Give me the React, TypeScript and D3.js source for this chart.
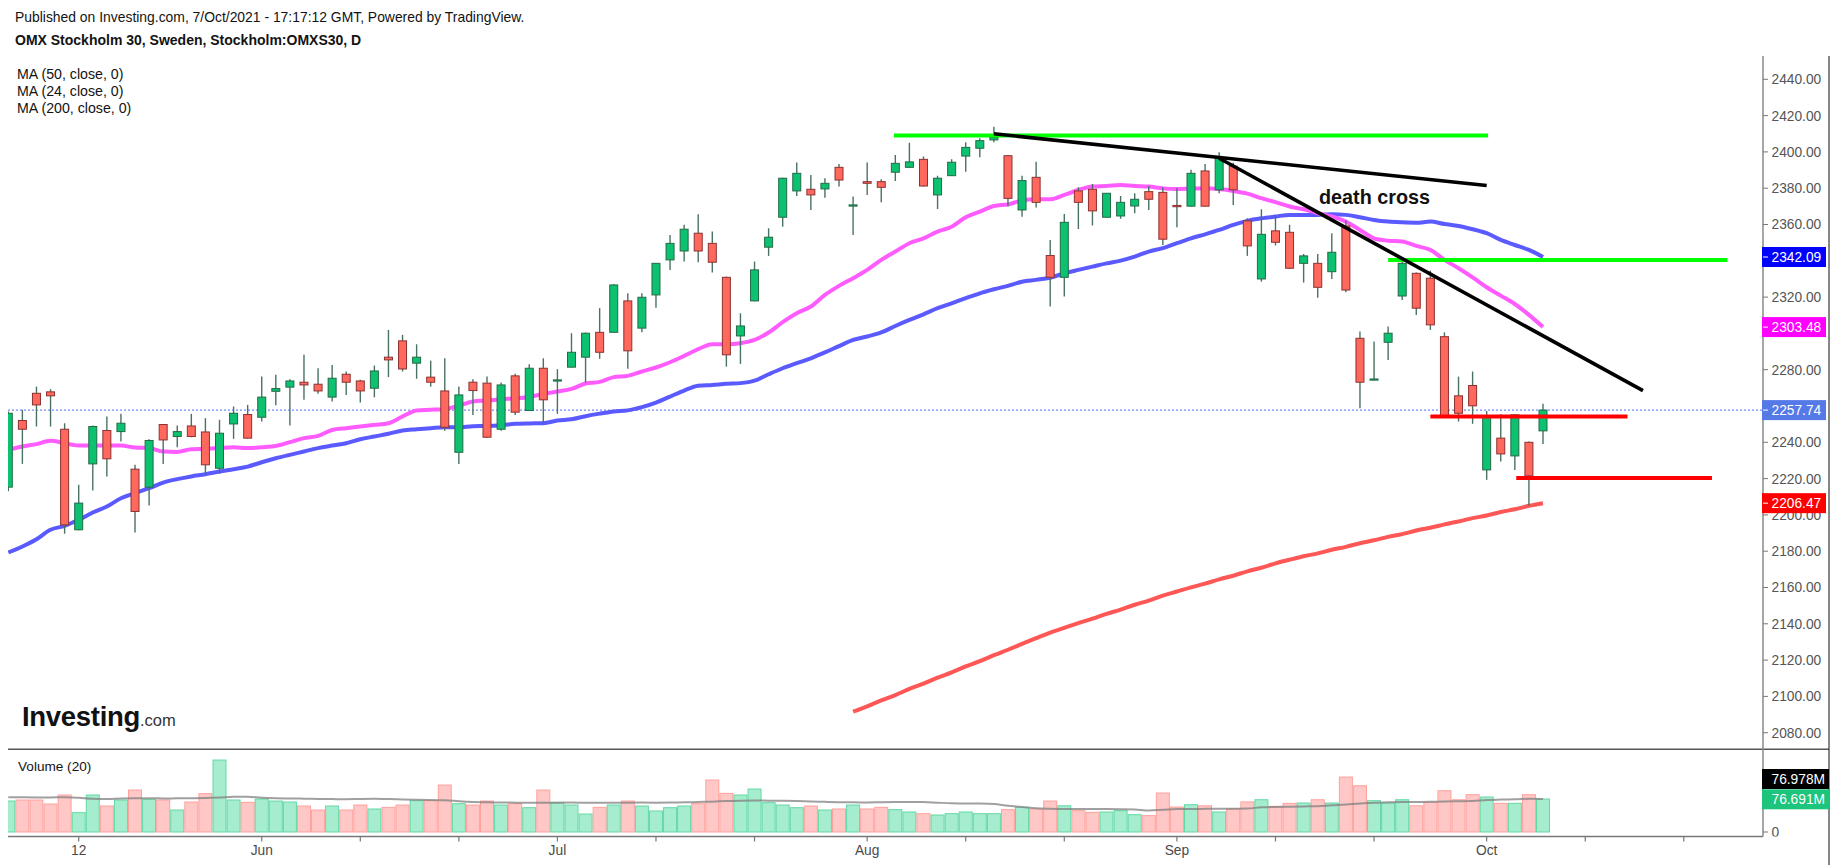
import React from 'react';
import * as d3 from 'd3';

// ---------- DATA ----------
const OPEN = [2215.3,2252.0,2267.0,2267.8,2247.2,2191.8,2228.1,2246.5,2245.9,2225.2,2215.3,2249.8,2243.2,2249.0,2245.7,2225.7,2250.1,2255.3,2253.8,2268.1,2270.4,2273.1,2272.0,2264.9,2277.5,2273.8,2269.8,2286.9,2295.9,2283.6,2275.9,2268.3,2234.5,2273.1,2272.6,2247.2,2276.6,2257.5,2280.8,2273.8,2281.4,2286.9,2300.6,2300.6,2317.9,2302.9,2321.2,2340.5,2345.4,2355.2,2349.6,2330.9,2298.6,2317.9,2347.5,2364.0,2378.5,2379.4,2379.6,2391.5,2370.2,2383.6,2383.6,2388.8,2391.5,2395.9,2376.3,2386.9,2397.7,2402.0,2406.6,2397.9,2368.0,2386.0,2342.9,2330.9,2378.5,2379.4,2364.0,2364.7,2370.2,2378.1,2377.7,2370.5,2370.1,2389.5,2379.1,2392.1,2362.0,2330.0,2356.5,2355.7,2338.6,2338.6,2334.0,2359.2,2297.3,2274.4,2295.1,2320.6,2333.1,2330.4,2298.2,2265.6,2271.3,2224.8,2242.3,2232.5,2240.0,2246.3];
const HIGH = [2257.0,2257.9,2270.7,2269.3,2250.5,2216.6,2249.2,2254.2,2255.7,2227.6,2241.7,2250.0,2249.2,2255.7,2253.3,2252.4,2259.7,2260.6,2276.2,2277.2,2274.8,2288.2,2280.8,2282.6,2279.0,2274.4,2282.3,2301.9,2299.2,2294.0,2285.0,2286.3,2270.7,2274.8,2276.2,2272.9,2277.7,2283.0,2286.3,2280.3,2300.1,2300.5,2313.9,2327.1,2322.1,2322.1,2338.8,2354.2,2359.8,2365.6,2356.1,2331.3,2311.1,2339.6,2357.9,2385.7,2394.1,2387.3,2385.5,2393.4,2375.4,2394.1,2384.9,2398.3,2405.1,2397.4,2386.9,2395.9,2405.3,2407.5,2413.9,2398.3,2386.9,2394.6,2351.5,2365.8,2380.5,2382.3,2377.4,2375.7,2377.2,2381.2,2380.5,2380.0,2390.1,2393.4,2399.8,2394.0,2363.4,2368.4,2365.3,2359.8,2343.8,2343.8,2355.2,2362.2,2301.0,2295.5,2303.8,2340.5,2333.5,2334.6,2300.6,2276.2,2279.0,2257.3,2255.5,2255.5,2240.4,2261.2];
const LOW = [2213.0,2228.1,2248.7,2248.7,2189.6,2191.5,2213.4,2221.2,2240.4,2190.3,2205.2,2228.1,2237.3,2242.8,2222.1,2222.6,2241.9,2242.0,2251.4,2260.4,2249.2,2263.4,2266.7,2262.5,2266.1,2261.9,2264.8,2275.9,2279.0,2275.0,2270.7,2246.3,2228.1,2255.1,2242.5,2246.3,2255.1,2257.3,2250.5,2255.7,2281.2,2272.9,2286.0,2300.4,2280.5,2300.6,2314.2,2335.0,2339.6,2339.2,2333.5,2281.7,2283.2,2317.7,2342.7,2358.8,2375.7,2368.0,2374.8,2380.9,2354.2,2376.3,2372.2,2384.0,2391.3,2381.0,2368.6,2386.7,2389.1,2397.0,2405.3,2369.9,2364.3,2369.3,2314.8,2320.3,2357.5,2359.4,2363.8,2363.1,2366.2,2368.0,2348.7,2358.5,2369.9,2369.9,2377.2,2370.8,2342.7,2328.5,2348.4,2335.5,2328.0,2319.7,2330.0,2322.7,2258.8,2274.2,2285.4,2318.4,2310.2,2301.9,2254.0,2251.4,2250.2,2219.3,2229.4,2224.8,2205.0,2239.1];
const CLOSE = [2256.0,2247.2,2260.6,2265.6,2194.5,2206.5,2248.7,2230.9,2250.5,2201.9,2241.0,2241.3,2245.9,2243.2,2227.6,2245.0,2256.0,2242.3,2264.9,2269.6,2273.8,2271.6,2268.3,2275.3,2273.1,2268.3,2279.3,2285.4,2280.4,2286.9,2273.1,2248.3,2266.1,2268.5,2242.8,2271.6,2256.6,2280.8,2263.4,2274.4,2289.6,2300.1,2289.6,2326.7,2290.4,2319.9,2338.6,2349.6,2357.4,2345.4,2339.2,2288.2,2304.1,2335.0,2353.0,2385.5,2388.2,2376.3,2382.7,2384.5,2370.8,2382.7,2380.5,2393.7,2394.5,2381.2,2385.5,2394.3,2402.5,2406.2,2408.0,2374.4,2384.2,2372.2,2330.9,2361.2,2372.2,2367.5,2377.2,2372.2,2373.9,2373.9,2351.9,2369.8,2388.2,2370.1,2396.6,2379.1,2348.2,2354.6,2350.2,2335.9,2342.7,2325.4,2344.7,2323.9,2273.1,2274.9,2300.1,2338.6,2313.9,2304.7,2254.2,2256.0,2260.1,2254.6,2233.6,2255.1,2221.5,2257.74];

const MA24 = [2235.8,2237.7,2239.0,2240.8,2239.5,2238.2,2238.2,2238.2,2238.2,2237.1,2236.8,2234.9,2234.7,2236.2,2236.4,2236.8,2237.3,2236.8,2237.3,2238.0,2240.1,2242.3,2243.5,2246.8,2247.8,2248.7,2249.6,2250.5,2254.2,2257.5,2257.9,2258.4,2260.1,2262.5,2263.0,2263.7,2264.2,2265.0,2266.7,2268.0,2269.4,2272.4,2273.3,2275.9,2276.6,2279.0,2281.2,2284.1,2287.6,2291.3,2294.0,2294.0,2294.6,2296.4,2300.5,2306.2,2311.1,2314.8,2321.2,2326.2,2330.4,2335.0,2340.5,2345.1,2349.7,2352.4,2356.1,2358.8,2364.0,2367.1,2370.2,2371.1,2373.2,2373.9,2373.9,2376.3,2379.0,2380.9,2381.2,2381.8,2381.2,2380.9,2379.9,2379.5,2379.8,2380.0,2379.5,2378.5,2377.0,2374.5,2372.3,2369.9,2368.4,2366.2,2364.4,2361.6,2357.0,2352.4,2351.1,2350.6,2348.2,2346.0,2340.5,2335.9,2330.9,2325.4,2320.8,2316.2,2310.2,2303.48];
const MA50 = [2179.3,2182.6,2186.6,2191.8,2194.0,2197.3,2201.3,2204.6,2209.2,2212.0,2214.7,2217.8,2219.7,2221.2,2222.4,2223.9,2225.2,2226.6,2229.0,2231.2,2233.1,2234.9,2236.8,2238.2,2239.5,2241.7,2243.2,2244.7,2246.5,2247.2,2247.8,2248.3,2248.3,2248.9,2249.0,2249.4,2250.2,2250.4,2250.5,2252.0,2252.7,2254.4,2255.8,2257.0,2257.6,2259.4,2261.9,2265.2,2268.5,2271.1,2271.6,2272.2,2272.6,2274.0,2277.5,2280.8,2283.6,2286.3,2289.5,2293.0,2296.4,2298.3,2300.5,2304.1,2307.4,2310.5,2313.9,2316.6,2319.4,2322.1,2324.3,2326.2,2328.5,2329.5,2330.7,2333.1,2335.0,2336.8,2338.6,2340.1,2342.3,2345.1,2347.0,2349.7,2352.4,2354.6,2357.0,2359.8,2362.0,2363.4,2364.4,2365.3,2365.3,2365.3,2365.6,2365.3,2364.0,2362.5,2361.6,2361.2,2361.0,2361.6,2360.3,2359.2,2357.4,2355.2,2351.5,2348.7,2346.0,2342.09];
const MA200_START = 60;
const MA200 = [2091.6,2094.5,2097.8,2100.7,2104.1,2107.0,2110.3,2113.2,2116.5,2119.4,2122.7,2125.7,2128.9,2132.1,2135.2,2137.7,2140.4,2142.8,2145.5,2147.8,2150.5,2152.8,2155.5,2157.8,2160.1,2162.1,2164.5,2166.5,2168.9,2170.9,2173.3,2175.3,2177.2,2178.8,2180.8,2182.4,2184.4,2186.0,2187.9,2189.4,2191.4,2192.9,2194.8,2196.4,2198.2,2199.7,2201.6,2203.1,2205.0,2206.47];

const VOLUME = [72.0,74.4,74.4,65.1,86.0,44.9,86.0,60.4,74.4,97.6,75.9,74.4,51.1,69.7,89.1,167.3,74.4,68.9,76.7,72.0,69.7,60.4,51.1,60.4,51.1,62.7,53.5,57.3,62.7,72.8,72.8,109.2,65.8,62.7,72.0,62.7,65.8,56.5,97.6,68.9,62.7,41.8,57.3,62.7,72.0,60.4,48.8,56.5,60.4,65.8,120.8,89.9,86.0,99.9,68.2,62.7,56.5,60.4,51.1,53.5,62.7,53.5,57.3,52.0,46.5,42.6,39.5,42.6,46.5,42.6,42.6,52.0,57.3,53.5,72.0,61.0,49.6,45.7,46.5,49.6,40.3,38.0,90.6,58.0,63.5,61.0,46.5,54.0,70.0,75.0,59.7,66.6,67.4,75.0,67.4,127.8,107.6,72.8,67.4,75.0,61.0,69.0,96.0,75.0,86.8,81.3,66.6,66.6,86.8,76.691];
const VOLUME_MA = [80.6,80.8,80.5,80.3,80.9,79.5,77.2,76.8,77.9,78.3,78.6,78.0,78.2,78.5,79.0,80.1,81.9,82.0,79.6,78.4,78.0,77.6,77.0,76.6,76.2,76.9,77.1,76.5,75.8,74.9,74.2,73.9,71.5,69.8,69.2,68.5,68.3,68.1,68.0,68.2,68.4,68.0,67.9,68.1,68.3,68.5,68.2,68.4,68.9,69.8,70.6,72.1,72.9,73.2,72.8,72.5,71.9,70.8,70.2,69.4,69.0,68.8,69.3,69.7,69.9,69.5,68.2,66.9,66.4,66.2,65.1,60.8,58.2,55.0,53.8,53.2,53.5,53.6,53.4,53.0,52.4,50.1,51.6,53.2,53.6,53.8,54.0,54.2,54.6,57.5,58.4,58.9,59.5,60.0,62.2,63.8,66.5,67.9,69.2,69.8,70.0,70.2,70.9,71.4,72.0,74.3,75.3,75.9,77.3,76.978];

const PRICE_TICKS = [2080,2100,2120,2140,2160,2180,2200,2220,2240,2260,2280,2300,2320,2340,2360,2380,2400,2420,2440];
const TIME_LABELS = [
  { i: 5, label: '12' },
  { i: 18, label: 'Jun' },
  { i: 39, label: 'Jul' },
  { i: 61, label: 'Aug' },
  { i: 83, label: 'Sep' },
  { i: 105, label: 'Oct' },
];
const TIME_MINOR = [25, 32, 46, 53, 68, 75, 90, 97, 112, 119];

const TREND_LINES = [
  { i0: 70, p0: 2410.0, i1: 105, p1: 2381.5 },
  { i0: 86, p0: 2396.5, i1: 116.1, p1: 2268.5 },
];
const GREEN_LEVELS = [
  { p: 2409.0, i0: 62.9, i1: 105.1 },
  { p: 2340.5, i0: 98.0, i1: 122.1 },
];
const RED_LEVELS = [
  { p: 2254.2, i0: 101.0, i1: 115.0 },
  { p: 2220.3, i0: 107.1, i1: 121.0 },
];
const PRICE_BADGES = [
  { v: 2342.09, bg: '#0000ff' },
  { v: 2303.48, bg: '#ff00ff' },
  { v: 2257.74, bg: '#5679e8' },
  { v: 2206.47, bg: '#ff0000' },
];
const LAST_PRICE = 2257.74;
const LEGEND = ['MA (50, close, 0)', 'MA (24, close, 0)', 'MA (200, close, 0)'];

const FONT = '"Liberation Sans", Arial, Helvetica, sans-serif';

export default function App() {
  const n = OPEN.length;
  const x = d3.scaleLinear().domain([0, n - 1]).range([8.3, 1543.0]);
  const y = d3.scaleLinear().domain([2080, 2440]).range([732.7, 79.3]);
  const yv = d3.scaleLinear().domain([0, 100]).range([832, 789]);

  const paneL = 8, axisX = 1763, borderX = 1829;
  const paneTop = 56, sepY = 749.3, botY = 836.5;

  const maLine = (offset: number) =>
    d3.line<number>().x((_, i) => x(i + offset)).y((d) => y(d)).curve(d3.curveMonotoneX);
  const volLine = d3.line<number>().x((_, i) => x(i)).y((d) => yv(d)).curve(d3.curveMonotoneX);

  const GREEN = '#0cc170', GREEN_B = '#236b47', RED = '#ff685d', RED_B = '#8d3131', WICK = '#4a7262';

  // axis labels hidden under the value badges are not drawn
  const visibleTicks = PRICE_TICKS.filter((p) => PRICE_BADGES.every((b) => Math.abs(y(p) - y(b.v)) > 8));

  return (
    <svg width={1837} height={865} style={{ position: 'absolute', left: 0, top: 0, background: '#fff' }} fontFamily={FONT}>
      <defs>
        <clipPath id="pricePane"><rect x={paneL} y={paneTop} width={axisX - paneL} height={sepY - paneTop} /></clipPath>
        <clipPath id="volPane"><rect x={paneL} y={sepY} width={axisX - paneL} height={botY - sepY} /></clipPath>
        <clipPath id="volAxis"><rect x={axisX} y={sepY} width={borderX - axisX} height={botY - sepY} /></clipPath>
      </defs>
      <rect x={0} y={0} width={1837} height={865} fill="#fff" />

      {/* header */}
      <text x={15} y={21.5} fontSize={13.9} fill="#131313">Published on Investing.com, 7/Oct/2021 - 17:17:12 GMT, Powered by TradingView.</text>
      <text x={15} y={45} fontSize={14} fontWeight="bold" fill="#131313">OMX Stockholm 30, Sweden, Stockholm:OMXS30, D</text>
      {LEGEND.map((t, k) => (
        <text key={t} x={17} y={78.5 + k * 17} fontSize={14.2} fill="#131313">{t}</text>
      ))}

      {/* price pane */}
      <g clipPath="url(#pricePane)">
        <line x1={paneL} x2={axisX} y1={y(LAST_PRICE)} y2={y(LAST_PRICE)} stroke="#4f6fee" strokeWidth={1} strokeDasharray="2,2" />
        <path d={maLine(MA200_START)(MA200) || ''} fill="none" stroke="#ff5656" strokeWidth={4} strokeLinejoin="round" />
        <path d={maLine(0)(MA50) || ''} fill="none" stroke="#5a5aff" strokeWidth={4} strokeLinejoin="round" />
        <path d={maLine(0)(MA24) || ''} fill="none" stroke="#ff5cff" strokeWidth={4} strokeLinejoin="round" />
        {d3.range(n).map((i) => {
          const up = CLOSE[i] >= OPEN[i];
          const top = y(Math.max(OPEN[i], CLOSE[i]));
          const bot = y(Math.min(OPEN[i], CLOSE[i]));
          const cx = x(i);
          return (
            <g key={i}>
              <line x1={cx} x2={cx} y1={y(HIGH[i])} y2={y(LOW[i])} stroke={WICK} strokeWidth={1.4} />
              <rect x={cx - 4} y={top} width={8} height={Math.max(1.2, bot - top)} fill={up ? GREEN : RED} stroke={up ? GREEN_B : RED_B} strokeWidth={1} />
            </g>
          );
        })}
        {GREEN_LEVELS.map((g, k) => (
          <line key={'g' + k} x1={x(g.i0)} x2={x(g.i1)} y1={y(g.p)} y2={y(g.p)} stroke="#00ff00" strokeWidth={4} />
        ))}
        {RED_LEVELS.map((g, k) => (
          <line key={'r' + k} x1={x(g.i0)} x2={x(g.i1)} y1={y(g.p)} y2={y(g.p)} stroke="#ff0000" strokeWidth={4} />
        ))}
        {TREND_LINES.map((t, k) => (
          <line key={'t' + k} x1={x(t.i0)} x2={x(t.i1)} y1={y(t.p0)} y2={y(t.p1)} stroke="#000" strokeWidth={3.6} strokeLinecap="butt" />
        ))}
        <text x={1319} y={204} fontSize={19.8} fontWeight="bold" fill="#111">death cross</text>
        <text x={22} y={726} fill="#111">
          <tspan fontSize={27.5} fontWeight="bold" letterSpacing={-0.3}>Investing</tspan>
          <tspan fontSize={16.5} fill="#333">.com</tspan>
        </text>
      </g>

      {/* volume pane */}
      <text x={18} y={771} fontSize={13.6} fill="#131313">Volume (20)</text>
      <g clipPath="url(#volPane)">
        {d3.range(n).map((i) => {
          const up = CLOSE[i] >= OPEN[i];
          const cx = x(i);
          return (
            <rect key={i} x={cx - 6.5} y={yv(VOLUME[i])} width={13} height={yv(0) - yv(VOLUME[i])}
              fill={up ? '#a6ecce' : '#ffc8c6'} stroke={up ? '#62d9a4' : '#ffa19d'} strokeWidth={1} />
          );
        })}
        <path d={volLine(VOLUME_MA) || ''} fill="none" stroke="#808080" strokeOpacity={0.75} strokeWidth={2} />
      </g>

      {/* frame lines */}
      <line x1={paneL} x2={borderX} y1={sepY} y2={sepY} stroke="#555" strokeWidth={1.5} />
      <line x1={paneL} x2={axisX} y1={botY} y2={botY} stroke="#777" strokeWidth={1.5} />
      <line x1={axisX} x2={axisX} y1={paneTop} y2={botY} stroke="#888" strokeWidth={1.5} />
      <line x1={borderX} x2={borderX} y1={paneTop} y2={865} stroke="#111" strokeWidth={1} />

      {/* price axis */}
      {PRICE_TICKS.map((p) => (
        <line key={'tk' + p} x1={axisX} x2={axisX + 5} y1={y(p)} y2={y(p)} stroke="#777" strokeWidth={1} />
      ))}
      {visibleTicks.map((p) => (
        <text key={p} x={1771.5} y={y(p)} dy="0.36em" fontSize={13.75} fill="#555">{d3.format('.2f')(p)}</text>
      ))}
      {PRICE_BADGES.map((b) => (
        <g key={b.v}>
          <rect x={1762} y={y(b.v) - 10} width={64} height={20} fill={b.bg} />
          <line x1={axisX} x2={axisX + 5} y1={y(b.v)} y2={y(b.v)} stroke="#fff" strokeWidth={1} />
          <text x={1771.5} y={y(b.v)} dy="0.36em" fontSize={13.75} fill="#fff">{d3.format('.2f')(b.v)}</text>
        </g>
      ))}

      {/* volume axis */}
      <g clipPath="url(#volAxis)">
        <line x1={axisX} x2={axisX + 5} y1={yv(0)} y2={yv(0)} stroke="#777" strokeWidth={1} />
        <text x={1771.5} y={yv(0)} dy="0.36em" fontSize={13.75} fill="#555">0</text>
      </g>
      <rect x={1762} y={769} width={67} height={20} fill="#000" />
      <text x={1771.5} y={779} dy="0.36em" fontSize={13.75} fill="#fff">{VOLUME_MA[n - 1].toFixed(3)}M</text>
      <rect x={1762} y={789.3} width={67} height={20} fill="#1dc47c" />
      <text x={1771.5} y={yv(VOLUME[n - 1])} dy="0.36em" fontSize={13.75} fill="#fff">{VOLUME[n - 1].toFixed(3)}M</text>

      {/* time axis */}
      {TIME_LABELS.map((t) => (
        <g key={t.label}>
          <line x1={x(t.i)} x2={x(t.i)} y1={botY} y2={botY + 5} stroke="#777" strokeWidth={1.2} />
          <text x={x(t.i)} y={855} textAnchor="middle" fontSize={13.75} fill="#4a4a4a">{t.label}</text>
        </g>
      ))}
      {TIME_MINOR.map((i) => (
        <line key={i} x1={x(i)} x2={x(i)} y1={botY} y2={botY + 5} stroke="#777" strokeWidth={1.2} />
      ))}
    </svg>
  );
}
